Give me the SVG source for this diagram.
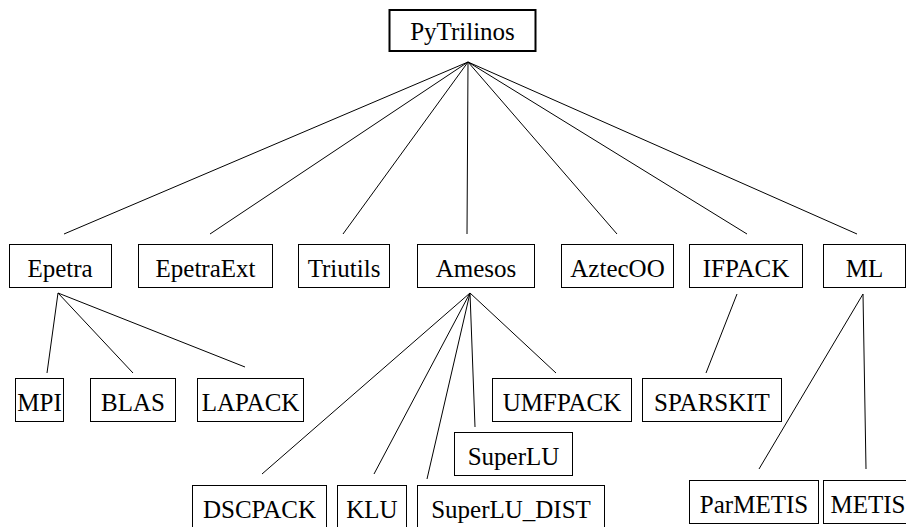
<svg xmlns="http://www.w3.org/2000/svg" width="906" height="527" viewBox="0 0 906 527">
<style>
.b{fill:#fff;stroke:#000;stroke-width:1}
.t{font-family:"Liberation Serif","Times New Roman",Times,"Nimbus Roman","DejaVu Serif","Noto Serif",serif;font-size:25px;fill:#000;text-anchor:middle}
.e line{stroke:#000;stroke-width:1}
</style>
<rect width="906" height="527" fill="#fff"/>
<g class="e" id="edges">
<line x1="468" y1="62" x2="64" y2="234"/>
<line x1="468" y1="62" x2="210" y2="234"/>
<line x1="468" y1="62" x2="343" y2="234"/>
<line x1="468" y1="62" x2="467" y2="234"/>
<line x1="468" y1="62" x2="617" y2="234"/>
<line x1="468" y1="62" x2="747" y2="234"/>
<line x1="468" y1="62" x2="857" y2="234"/>
<line x1="58" y1="293" x2="47" y2="373"/>
<line x1="58" y1="293" x2="133" y2="373"/>
<line x1="58" y1="293" x2="245" y2="367"/>
<line x1="470" y1="293" x2="262" y2="474"/>
<line x1="470" y1="293" x2="374" y2="474"/>
<line x1="470" y1="293" x2="427" y2="479"/>
<line x1="470" y1="293" x2="475" y2="427"/>
<line x1="470" y1="293" x2="556" y2="373"/>
<line x1="737" y1="294" x2="706" y2="373"/>
<line x1="863" y1="294" x2="759" y2="469"/>
<line x1="863" y1="294" x2="866" y2="469"/>
</g>
<g id="PyTrilinos"><rect class="b" x="389.5" y="10" width="146" height="41" style="stroke-width:2"/><text class="t" x="462.5" y="40" font-family="Liberation Serif">PyTrilinos</text></g>
<g id="Epetra"><rect class="b" x="9.5" y="244.5" width="102" height="43"/><text class="t" x="60" y="277">Epetra</text></g>
<g id="EpetraExt"><rect class="b" x="138.5" y="244.5" width="134" height="43"/><text class="t" x="205.5" y="277">EpetraExt</text></g>
<g id="Triutils"><rect class="b" x="298.5" y="244.5" width="91" height="43"/><text class="t" x="344" y="277">Triutils</text></g>
<g id="Amesos"><rect class="b" x="417.5" y="244.5" width="117" height="43"/><text class="t" x="476" y="277">Amesos</text></g>
<g id="AztecOO"><rect class="b" x="561.5" y="244.5" width="112" height="43"/><text class="t" x="617.5" y="277">AztecOO</text></g>
<g id="IFPACK"><rect class="b" x="689.5" y="244.5" width="113" height="43"/><text class="t" x="746" y="277">IFPACK</text></g>
<g id="ML"><rect class="b" x="823.5" y="244.5" width="82" height="43"/><text class="t" x="864.5" y="277">ML</text></g>
<g id="MPI"><rect class="b" x="15.5" y="378.5" width="48" height="43"/><text class="t" x="39.5" y="411">MPI</text></g>
<g id="BLAS"><rect class="b" x="90.5" y="378.5" width="85" height="43"/><text class="t" x="133" y="411">BLAS</text></g>
<g id="LAPACK"><rect class="b" x="197.5" y="378.5" width="106" height="43"/><text class="t" x="250.5" y="411">LAPACK</text></g>
<g id="UMFPACK"><rect class="b" x="492.5" y="378.5" width="139" height="43"/><text class="t" x="562" y="411">UMFPACK</text></g>
<g id="SPARSKIT"><rect class="b" x="642.5" y="378.5" width="139" height="43"/><text class="t" x="712" y="411">SPARSKIT</text></g>
<g id="SuperLU"><rect class="b" x="454.5" y="432.5" width="118" height="43"/><text class="t" x="513.5" y="465">SuperLU</text></g>
<g id="DSCPACK"><rect class="b" x="192.5" y="485.5" width="134" height="43"/><text class="t" x="259.5" y="518">DSCPACK</text></g>
<g id="KLU"><rect class="b" x="337.5" y="485.5" width="69" height="43"/><text class="t" x="372" y="518">KLU</text></g>
<g id="SuperLU_DIST"><rect class="b" x="417.5" y="485.5" width="187" height="43"/><text class="t" x="511" y="518">SuperLU_DIST</text></g>
<g id="ParMETIS"><rect class="b" x="689.5" y="480.5" width="129" height="43"/><text class="t" x="754" y="513">ParMETIS</text></g>
<g id="METIS"><rect class="b" x="823.5" y="480.5" width="90" height="43"/><text class="t" x="868" y="513">METIS</text></g>
</svg>
